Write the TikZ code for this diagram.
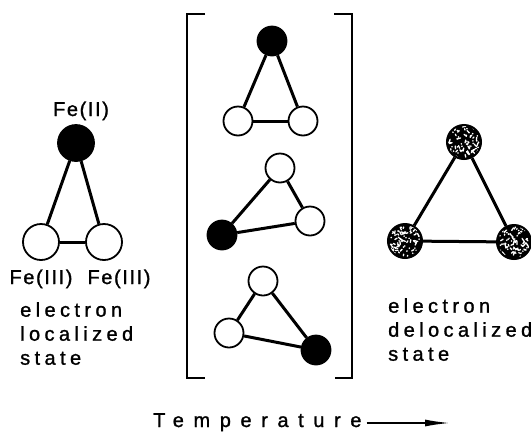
\documentclass[tikz,border=0pt]{standalone}
\usepackage{fontspec}
\setmainfont{Liberation Sans}
\newfontfamily\fefont[LetterSpace=8,FakeBold=1.2]{Liberation Sans}
\newfontfamily\statefont[LetterSpace=22,FakeBold=1.2]{Liberation Sans}
\newfontfamily\tempfont[LetterSpace=48,FakeBold=1.2]{Liberation Sans}
\usetikzlibrary{arrows.meta,calc}

\begin{document}
\begin{tikzpicture}[x=1pt, y=-1pt,
  site/.style={draw, circle, line width=1.8pt, inner sep=0pt, fill=white},
  big/.style={site, minimum size=36pt},
  small/.style={site, minimum size=29pt},
  occupied/.style={fill=black},
  stippled/.style={site, minimum size=34pt, line width=2pt,
    path picture={
      \fill[black] (path picture bounding box.south west) rectangle (path picture bounding box.north east);
      \foreach \k in {1,...,45}
        \draw[white, line width=1.3pt, line cap=round]
          ($(path picture bounding box.center)+(rand*15,rand*15)$) -- ++(rand*3.5,rand*3.5);
      \foreach \k in {1,...,40}
        \fill[white] ($(path picture bounding box.center)+(rand*15,rand*15)$) circle (0.9pt);
    }},
  bond/.style={line width=3pt},
  fe/.style={font=\fefont\fontsize{20}{24}\selectfont, inner sep=0pt, anchor=base},
  caption/.style={font=\statefont\fontsize{20}{24}\selectfont, align=left, inner sep=0pt, anchor=north west},
  bracket/.style={line width=2.2pt},
  arrow/.style={-{Latex[length=26pt,width=7pt]}, line width=2pt}
]
\useasboundingbox (0,0) rectangle (531,432);
\pgfmathsetseed{11}

\node[fe] (feII) at (81,116) {Fe(II)};
\node[big, occupied] (l1) at (76,143) {};
\node[big] (l2) at (41,242) {};
\node[big] (l3) at (104,242) {};
\node[fe] (feIIIa) at (41,284) {Fe(III)};
\node[fe] (feIIIb) at (119,284) {Fe(III)};
\node[caption] (localized) at (20,302) {electron\\localized\\state};

\node[small, occupied] (a1) at (272,41) {};
\node[small] (a2) at (238,121) {};
\node[small] (a3) at (303,121) {};
\node[small] (b1) at (280,168) {};
\node[small] (b2) at (310,221) {};
\node[small, occupied] (b3) at (222,235) {};
\node[small] (c1) at (263,281) {};
\node[small] (c2) at (229,333) {};
\node[small, occupied] (c3) at (316,350) {};

\node[stippled] (r1) at (464,142) {};
\node[stippled] (r2) at (405,241) {};
\node[stippled] (r3) at (514,242) {};
\node[caption] (delocalized) at (388,298) {electron\\delocalized\\state};

\node[font=\tempfont\fontsize{20}{24}\selectfont, inner sep=0pt, anchor=base west] (temp) at (153,427) {Temperature};
\coordinate (tempend) at (451,423);

\foreach \p/\q in {l1/l2, l2/l3, l3/l1, a1/a2, a2/a3, a3/a1, b1/b2, b2/b3, b3/b1, c1/c2, c2/c3, c3/c1, r1/r2, r2/r3, r3/r1}
  \draw[bond] (\p) -- (\q);

\draw[bracket] (205,14) -- (187,14) -- (187,378) -- (205,378);
\draw[bracket] (334,14) -- (352,14) -- (352,378) -- (335,378);

\draw[arrow] ([xshift=5pt]temp.east |- tempend) -- (tempend);
\end{tikzpicture}
\end{document}
